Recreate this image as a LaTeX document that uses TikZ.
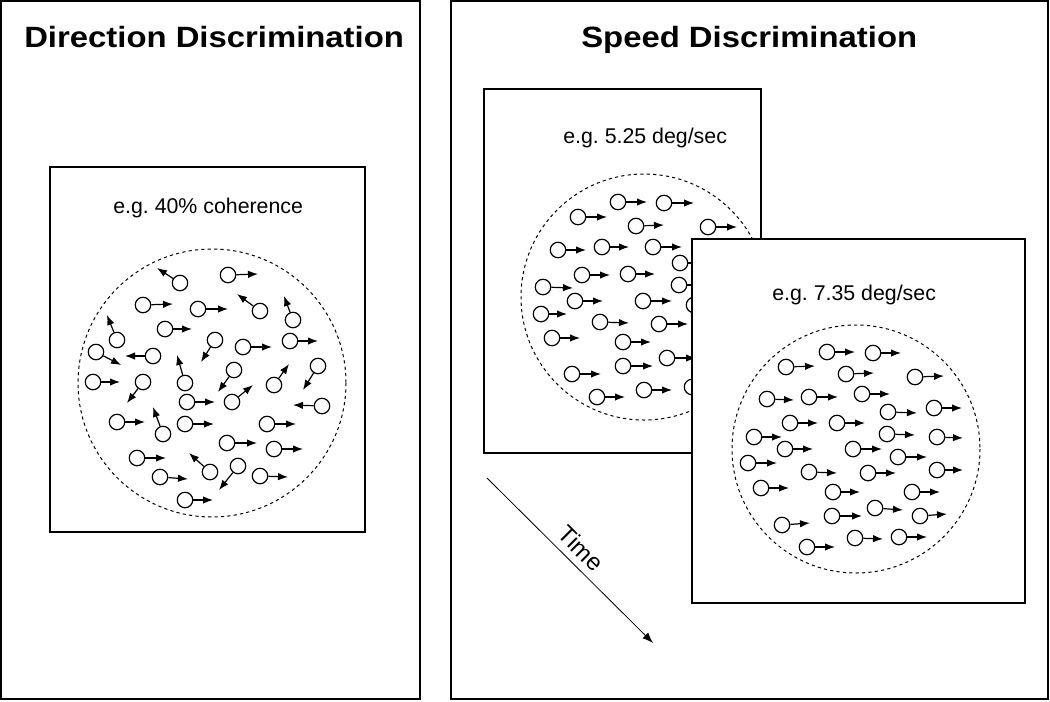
\documentclass[tikz,border=0pt]{standalone}
\usepackage{fontspec}
\setmainfont{Liberation Sans}
\usetikzlibrary{arrows.meta}
\frenchspacing
\begin{document}
\begin{tikzpicture}[x=0.75pt,y=-0.75pt,
  frame/.style={draw=black,line width=1pt},
  innerbox/.style={draw=black,line width=0.9pt,fill=white},
  aperture/.style={draw=black,line width=0.75pt,dash pattern=on 2.4pt off 2.4pt},
  dotc/.style={circle,draw=black,line width=0.9pt,minimum size=11.6pt,inner sep=0pt,fill=white},
  motion/.style={draw=black,line width=0.9pt,-{Latex[length=7.5pt,width=5.6pt]}},
  timearrow/.style={draw=black,line width=0.6pt,-{Latex[length=8pt,width=6pt]}},
  lbl/.style={inner sep=0pt,anchor=base west,font=\fontsize{16}{19}\selectfont},
  ttl/.style={inner sep=0pt,anchor=base west,font=\bfseries\fontsize{22}{25}\selectfont}]
\useasboundingbox (0,0) rectangle (1050,701);
\fill[white] (0,0) rectangle (1050,701);

% ---------- left panel ----------
\draw[frame] (1,1) rectangle (420,699);
\node[ttl] (titleL) at (24,47) {\scalebox{1.12}[1]{Direction Discrimination}};
\draw[innerbox] (50,167) rectangle (365,532);
\node[lbl] (cohL) at (113,213) {e.g. 40\% coherence};
\draw[aperture] (212,383) circle[radius=134];
\foreach \cx/\cy/\tx/\ty [count=\n] in {
180/283/157/268, 228/275/258/274, 143/305/173/304, 198/309/228/309,
260/311/237/294, 293/320/284/296, 165/329/192/329, 117/340/107/315,
215/340/201/362, 243/347/272/347, 290/341/318/341, 96/352/121/365,
153/356/125/356, 185/383/177/355, 318/366/303/390, 234/370/218/392,
274/385/289/364, 93/382/120/382, 143/382/127/403, 187/402/215/402,
232/402/253/385, 322/406/293/405, 117/422/145/422, 163/434/153/407,
185/424/214/424, 267/424/296/424, 227/443/257/443, 274/449/303/449,
137/458/166/458, 210/472/189/453, 238/466/219/490, 260/476/288/477,
160/477/188/479, 185/500/213/500} {
  \node[dotc] (dl\n) at (\cx,\cy) {};
  \coordinate (tl\n) at (\tx,\ty);
  \draw[motion] (dl\n) -- (tl\n);
}

% ---------- right panel ----------
\draw[frame] (451,1) rectangle (1048,699);
\node[ttl] (titleR) at (581,47) {\scalebox{1.12}[1]{Speed Discrimination}};

% first stimulus
\draw[innerbox] (484,89) rectangle (761,453);
\node[lbl] (spd1) at (563,143) {e.g. 5.25 deg/sec};
\draw[aperture] (644,297) circle[radius=123];
\foreach \cx/\cy/\tx/\ty [count=\n] in {
618/202/647/202, 664/203/694/203, 578/217/607/217, 636/226/664/225,
708/227/737/227, 558/250/586/250, 602/247/629/247, 653/247/682/247,
680/263/709/263, 582/275/610/275, 628/274/655/274, 543/287/573/288,
679/285/708/285, 575/301/603/301, 643/301/672/301, 694/305/723/305,
541/314/567/314, 600/322/629/323, 659/324/688/324, 552/338/580/338,
623/342/651/342, 667/358/696/358, 623/366/653/366, 572/374/601/374,
692/387/721/387, 644/390/672/390, 597/397/625/397} {
  \node[dotc] (da\n) at (\cx,\cy) {};
  \coordinate (ta\n) at (\tx,\ty);
  \draw[motion] (da\n) -- (ta\n);
}

% second stimulus
\draw[innerbox] (692,239) rectangle (1025,603);
\node[lbl] (spd2) at (772,300) {e.g. 7.35 deg/sec};
\draw[aperture] (856,449) circle[radius=124];
\foreach \cx/\cy/\tx/\ty [count=\n] in {
827/352/855/352, 873/353/901/353, 786/367/815/366, 846/374/874/373,
915/377/944/376, 767/399/794/400, 809/397/838/397, 862/394/890/394,
888/412/917/413, 934/408/962/408, 790/423/818/423, 837/423/865/423,
887/434/915/435, 754/437/782/437, 937/437/963/438, 785/449/813/449,
853/449/882/449, 898/457/927/457, 748/463/777/463, 809/472/837/473,
868/473/896/473, 937/470/963/470, 761/488/789/488, 833/492/860/492,
912/492/940/492, 875/508/903/510, 832/516/862/516, 920/516/947/514,
782/525/810/523, 855/538/883/539, 899/537/927/537, 807/547/835/547} {
  \node[dotc] (db\n) at (\cx,\cy) {};
  \coordinate (tb\n) at (\tx,\ty);
  \draw[motion] (db\n) -- (tb\n);
}

% time arrow
\coordinate (timeS) at (487,478);
\coordinate (timeE) at (653,643);
\draw[timearrow] (timeS) -- (timeE);
\node[inner sep=0pt,rotate=-45,font=\fontsize{18}{21}\selectfont] (timeL) at (581,548) {Time};
\end{tikzpicture}
\end{document}
